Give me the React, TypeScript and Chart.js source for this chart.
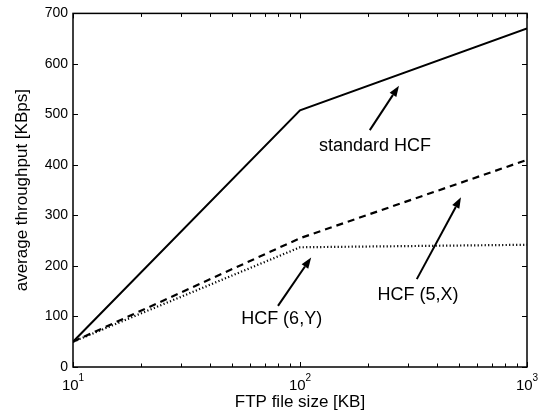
import React, { useEffect, useRef } from "react";
import { Chart, registerables } from "chart.js";

Chart.register(...registerables);

// ---- data ----
const fileSizes = [10, 100, 1000];
const standardHCF = [50, 508, 670];
const hcf5X = [50, 255, 410];
const hcf6Y = [50, 237, 242];

const xTickValues = [10, 20, 30, 40, 50, 60, 70, 80, 90, 100, 200, 300, 400, 500, 600, 700, 800, 900, 1000];
const xMajorTicks = [10, 100, 1000];
const xTickBase = ["10", "10", "10"];
const xTickExp = ["1", "2", "3"];
const yTickValues = [0, 100, 200, 300, 400, 500, 600, 700];

// annotations in data coordinates
const annoTexts = ["standard HCF", "HCF (5,X)", "HCF (6,Y)"];
const annoTextX = [214, 331, 83];
const annoTextY = [438, 143, 95];
const annoTailX = [203, 327, 80];
const annoTailY = [469, 174, 121];
const annoHeadX = [273, 512, 112];
const annoHeadY = [557, 336, 217];

const FONT = "'Liberation Sans', Arial, Helvetica, sans-serif";

const framePlugin = {
  id: "frameTicksAnno",
  afterDatasetsDraw(chart: any) {
    const { ctx, chartArea } = chart;
    const xs = chart.scales.x;
    const ys = chart.scales.y;
    const { left, right, top, bottom } = chartArea;
    ctx.save();
    ctx.strokeStyle = "#000";
    ctx.lineWidth = 1.5;
    ctx.strokeRect(left, top, right - left, bottom - top);
    ctx.lineWidth = 1;
    ctx.beginPath();
    for (const v of xTickValues) {
      const px = Math.round(xs.getPixelForValue(v)) + 0.5;
      const len = xMajorTicks.includes(v) ? 5 : 3.5;
      ctx.moveTo(px, bottom);
      ctx.lineTo(px, bottom - len);
      ctx.moveTo(px, top);
      ctx.lineTo(px, top + len);
    }
    for (const v of yTickValues) {
      const py = Math.round(ys.getPixelForValue(v)) + 0.5;
      ctx.moveTo(left, py);
      ctx.lineTo(left + 5, py);
      ctx.moveTo(right, py);
      ctx.lineTo(right - 5, py);
    }
    ctx.stroke();

    // x tick labels with superscript exponents
    ctx.fillStyle = "#000";
    ctx.textAlign = "left";
    ctx.textBaseline = "alphabetic";
    for (let i = 0; i < xMajorTicks.length; i++) {
      const px = xs.getPixelForValue(xMajorTicks[i]);
      ctx.font = `15px ${FONT}`;
      const wb = ctx.measureText(xTickBase[i]).width;
      ctx.font = `10px ${FONT}`;
      const we = ctx.measureText(xTickExp[i]).width;
      const x0 = px - (wb + we) / 2;
      ctx.font = `15px ${FONT}`;
      ctx.fillText(xTickBase[i], x0, bottom + 23);
      ctx.font = `10px ${FONT}`;
      ctx.fillText(xTickExp[i], x0 + wb, bottom + 14);
    }

    // annotations
    ctx.font = `18px ${FONT}`;
    ctx.textAlign = "center";
    ctx.textBaseline = "middle";
    for (let i = 0; i < annoTexts.length; i++) {
      const tx = xs.getPixelForValue(annoTextX[i]);
      const ty = ys.getPixelForValue(annoTextY[i]);
      ctx.fillText(annoTexts[i], tx, ty);
      const x0 = xs.getPixelForValue(annoTailX[i]);
      const y0 = ys.getPixelForValue(annoTailY[i]);
      const x1 = xs.getPixelForValue(annoHeadX[i]);
      const y1 = ys.getPixelForValue(annoHeadY[i]);
      const ang = Math.atan2(y1 - y0, x1 - x0);
      const hl = 11;
      const hw = 4;
      const bx = x1 - hl * Math.cos(ang);
      const by = y1 - hl * Math.sin(ang);
      ctx.lineWidth = 2;
      ctx.beginPath();
      ctx.moveTo(x0, y0);
      ctx.lineTo(bx, by);
      ctx.stroke();
      ctx.beginPath();
      ctx.moveTo(x1, y1);
      ctx.lineTo(bx + hw * Math.sin(ang), by - hw * Math.cos(ang));
      ctx.lineTo(bx - hw * Math.sin(ang), by + hw * Math.cos(ang));
      ctx.closePath();
      ctx.fill();
    }
    ctx.restore();
  },
};

export default function App() {
  const ref = useRef<HTMLCanvasElement>(null);
  useEffect(() => {
    document.body.style.margin = "0";
    const mk = (vals: number[]) => fileSizes.map((x, i) => ({ x, y: vals[i] }));
    const chart = new Chart(ref.current!, {
      type: "line",
      data: {
        datasets: [
          { label: "standard HCF", data: mk(standardHCF), borderColor: "#000", borderWidth: 2, pointRadius: 0, tension: 0 },
          { label: "HCF (5,X)", data: mk(hcf5X), borderColor: "#000", borderWidth: 2.2, borderDash: [7, 5], pointRadius: 0, tension: 0 },
          { label: "HCF (6,Y)", data: mk(hcf6Y), borderColor: "#000", borderWidth: 2.2, borderDash: [1.2, 2.3], pointRadius: 0, tension: 0 },
        ],
      },
      options: {
        animation: false,
        responsive: false,
        devicePixelRatio: 1,
        layout: { padding: { top: 9, right: 18, left: 0, bottom: 0 } },
        plugins: { legend: { display: false }, tooltip: { enabled: false } },
        scales: {
          x: {
            type: "logarithmic",
            min: 10,
            max: 1000,
            grid: { display: false, drawTicks: false },
            border: { display: false },
            afterBuildTicks: (s: any) => {
              s.ticks = xTickValues.map((v) => ({ value: v }));
            },
            afterFit: (s: any) => {
              s.height = 50;
            },
            ticks: { display: false },
            title: {
              display: true,
              text: "FTP file size [KB]",
              color: "#000",
              font: { size: 17, family: FONT },
              padding: { top: 0, bottom: 4 },
            },
          },
          y: {
            min: 0,
            max: 700,
            grid: { display: false, drawTicks: false },
            border: { display: false },
            afterBuildTicks: (s: any) => {
              s.ticks = yTickValues.map((v) => ({ value: v }));
            },
            afterFit: (s: any) => {
              s.width = 73;
            },
            ticks: {
              padding: 5,
              color: "#000",
              font: { size: 14, family: FONT },
            },
            title: {
              display: true,
              text: "average throughput [KBps]",
              color: "#000",
              font: { size: 17, family: FONT },
              padding: { top: 12, bottom: 0 },
            },
          },
        },
      },
      plugins: [framePlugin],
    } as any);
    return () => chart.destroy();
  }, []);
  return <canvas ref={ref} width={545} height={417} style={{ display: "block" }} />;
}
